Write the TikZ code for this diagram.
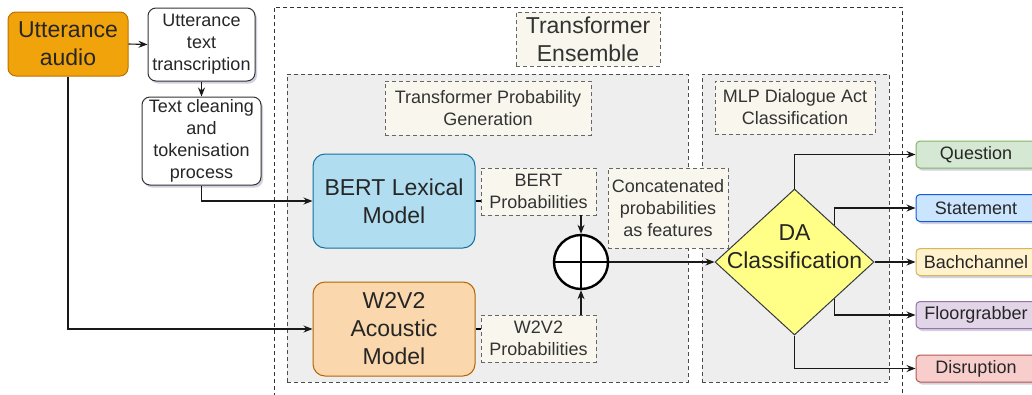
\documentclass[tikz,border=0pt]{standalone}
\usepackage{fontspec}
\setmainfont{Liberation Sans}
\usepackage{xcolor}
\usetikzlibrary{positioning, shapes.geometric, arrows.meta, calc, shadows}

\definecolor{audiofill}{HTML}{F0A30A}
\definecolor{audiodraw}{HTML}{BD7000}
\definecolor{bertfill}{HTML}{B1DDF0}
\definecolor{bertdraw}{HTML}{10739E}
\definecolor{wavfill}{HTML}{FAD7AC}
\definecolor{wavdraw}{HTML}{B46504}
\definecolor{dafill}{HTML}{FFFF88}
\definecolor{dadraw}{HTML}{36393D}
\definecolor{lblfill}{HTML}{F9F7ED}
\definecolor{grpfill}{HTML}{EEEEEE}
\definecolor{txt}{HTML}{262626}
\definecolor{lbltxt}{HTML}{333333}
\definecolor{qfill}{HTML}{D5E8D4}
\definecolor{qdraw}{HTML}{82B366}
\definecolor{stfill}{HTML}{CCE5FF}
\definecolor{stdraw}{HTML}{145ADC}
\definecolor{bcfill}{HTML}{FFF2CC}
\definecolor{bcdraw}{HTML}{D6B656}
\definecolor{fgfill}{HTML}{E1D5E7}
\definecolor{fgdraw}{HTML}{9673A6}
\definecolor{disfill}{HTML}{F8CECC}
\definecolor{disdraw}{HTML}{B85450}

\begin{document}
\begin{tikzpicture}[
    x=1pt, y=-1pt,
    >={Stealth[length=9pt, width=7pt]},
    big/.style={font=\fontsize{23}{28}\selectfont},
    small/.style={font=\fontsize{18}{22}\selectfont},
    shad/.style={drop shadow={shadow xshift=2pt, shadow yshift=-2.5pt,
                 opacity=0.18, fill=black!70!blue}},
    box/.style={draw, rounded corners=8pt, align=center, inner sep=0pt,
                line width=1pt, text=txt},
    proc/.style={box, fill=white, draw=black!80, small, shad},
    model/.style={box, big, minimum width=162, minimum height=94,
                  rounded corners=12pt},
    lbl/.style={draw=black!60, dashed, dash pattern=on 4pt off 3pt,
                fill=lblfill, align=center, inner sep=0pt, text=lbltxt,
                line width=0.8pt},
    grp/.style={draw=black!70, dashed, dash pattern=on 4pt off 3pt,
                fill=grpfill, line width=0.8pt},
    outbox/.style={box, small, rounded corners=4pt, minimum width=120,
                   minimum height=27, shad},
    conn/.style={->, line width=1.1pt, draw=black!90},
  ]
  \useasboundingbox (0,0) rectangle (1032,394);

  % ============ Containers ============
  \node[grp, fill=white, draw=black!80, minimum width=628, minimum height=430,
        anchor=north west] (ens) at (274,7) {};
  \node[lbl, big, minimum width=144, minimum height=54] (ensl) at (588,39)
    {Transformer\\Ensemble};

  \node[grp, minimum width=401, minimum height=308, anchor=north west]
    (gen) at (287,74) {};
  \node[lbl, small, minimum width=206, minimum height=54] (genl) at (488,108)
    {Transformer Probability\\Generation};

  \node[grp, minimum width=187, minimum height=308, anchor=north west]
    (mlp) at (702,74) {};
  \node[lbl, small, minimum width=160, minimum height=53] (mlpl) at (795,107.5)
    {MLP Dialogue Act\\Classification};

  % ============ Inputs ============
  \node[box, big, fill=audiofill, draw=audiodraw, minimum width=120,
        minimum height=64] (audio) at (68,44) {Utterance\\audio};
  \node[proc, minimum width=107, minimum height=73] (trans) at (201.5,44.5)
    {Utterance\\text\\transcription};
  \node[proc, minimum width=119, minimum height=88] (clean) at (201.5,141)
    {Text cleaning\\and\\tokenisation\\process};

  % ============ Models ============
  \node[model, fill=bertfill, draw=bertdraw] (bert) at (394,201)
    {BERT Lexical\\Model};
  \node[model, fill=wavfill, draw=wavdraw] (wav) at (394,329)
    {W2V2\\Acoustic\\Model};

  \node[lbl, small, minimum width=115, minimum height=47] (bertp) at (538.5,191.5)
    {BERT\\Probabilities};
  \node[lbl, small, minimum width=115, minimum height=47] (wavp) at (538.5,338.5)
    {W2V2\\Probabilities};

  \node[circle, draw, fill=white, line width=2.4pt, minimum size=54,
        inner sep=0pt] (sum) at (581,262) {};
  \draw[line width=2.4pt] (sum.north) -- (sum.south);
  \draw[line width=2.4pt] (sum.west) -- (sum.east);

  \node[lbl, small, minimum width=120, minimum height=80] (concat) at (668,208)
    {Concatenated\\probabilities\\as features};

  % ============ Classifier ============
  \node[diamond, draw=dadraw, fill=dafill, line width=1pt, inner sep=0pt,
        minimum width=159, minimum height=146,
        label={[big, text=txt, align=center, yshift=15pt]center:DA\\Classification}]
    (da) at (794.5,262) {};

  \node[outbox, fill=qfill, draw=qdraw] (q) at (976,154.5) {Question};
  \node[outbox, fill=stfill, draw=stdraw] (st) at (976,208) {Statement};
  \node[outbox, fill=bcfill, draw=bcdraw] (bc) at (976,262) {Bachchannel};
  \node[outbox, fill=fgfill, draw=fgdraw] (fg) at (976,315) {Floorgrabber};
  \node[outbox, fill=disfill, draw=disdraw] (dis) at (976,368.5) {Disruption};

  % ======== CONNECTIONS ========
  \draw[conn] (audio.east) -- (trans.west);
  \draw[conn] (trans.south) -- (clean.north);
  \draw[conn] (clean.south) |- (bert.west);
  \draw[conn] (audio.south) |- (wav.west);

  \draw[line width=1.1pt] (bert.east) -- (bert.east -| bertp.west);
  \draw[line width=1.1pt] (wav.east) -- (wav.east -| wavp.west);
  \draw[conn] (sum.north |- bertp.south) -- (sum.north);
  \draw[conn] (sum.south |- wavp.north) -- (sum.south);
  \draw[conn] (sum.east) -- (da.west);

  \draw[conn] (da.north) |- (q.west);
  \draw[conn] ($(da.north)!0.5!(da.east)$) |- (st.west);
  \draw[conn] (da.east) -- (bc.west);
  \draw[conn] ($(da.south)!0.5!(da.east)$) |- (fg.west);
  \draw[conn] (da.south) |- (dis.west);

\end{tikzpicture}
\end{document}
